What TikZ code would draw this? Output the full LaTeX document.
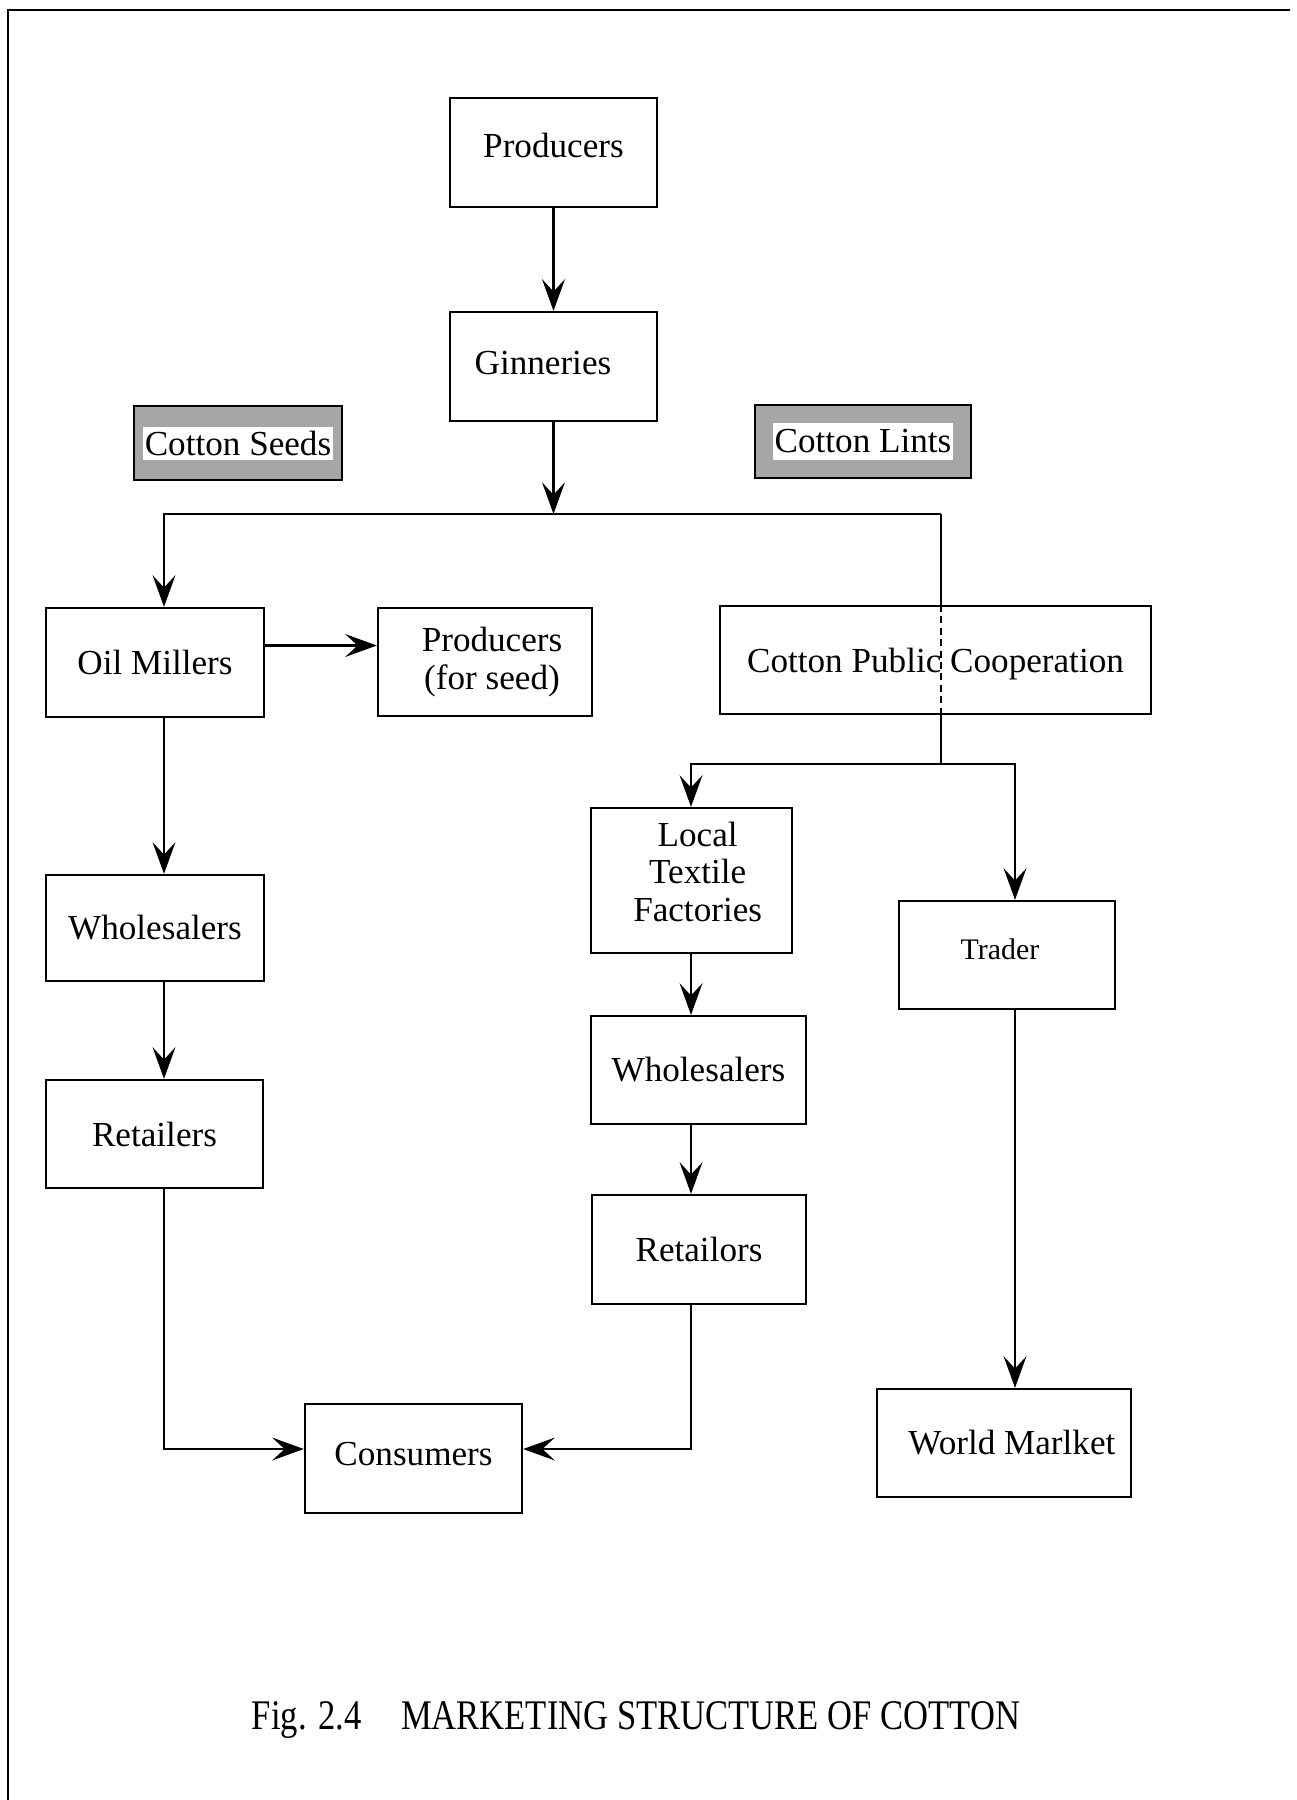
\documentclass[tikz,border=0pt]{standalone}
\usepackage{fontspec}
\usepackage{graphicx}
\setmainfont{Liberation Serif}
\usetikzlibrary{arrows.meta}
\begin{document}
\begin{tikzpicture}[x=0.02cm,y=-0.02cm,
  line width=1.3pt,
  sz/.style 2 args={minimum width=#1*0.02cm, minimum height=#2*0.02cm},
  box/.style={draw, rectangle, inner sep=0pt, align=center,
              font=\fontsize{20}{21.5}\selectfont},
  flow/.style={-{Stealth[length=18pt,width=13pt,inset=7pt]}},
  shadebox/.style={draw, fill=black!35, inner sep=0pt},
  tag/.style={fill=white, inner xsep=1pt, inner ysep=0pt,
              font=\fontsize{20}{24}\selectfont}
]
\useasboundingbox (0,0) rectangle (1296,1800);

% page frame
\draw[line width=1.6pt] (8,1800) -- (8,10) -- (1290,10);

% boxes
\node[box, sz={207}{109}, text depth=8pt] (prod) at (553.5,152.5) {Producers};
\node[box, sz={207}{109}, text depth=4pt] (gin)  at (553.5,366.5) {Ginneries\hspace*{12pt}};

\node[shadebox, sz={208}{74}] (seeds) at (238,443) {};
\node[tag, sz={183}{33}] (seedst) at (seeds) {Cotton Seeds};
\node[shadebox, sz={216}{73}] (lints) at (863,441.5) {};
\node[tag, sz={178}{37}] (lintst) at (lints) {Cotton Lints};

\node[box, sz={218}{109}] (om)  at (155,662.5) {Oil Millers};
\node[box, sz={214}{108}] (pfs) at (485,662) {\hspace*{8pt}Producers\\\hspace*{8pt}(for seed)};
\node[box, sz={431}{108}, text height=19pt] (cpc) at (935.5,660) {Cotton Public Cooperation};

\node[box, sz={218}{106}] (wl) at (155,928) {Wholesalers};
\node[box, sz={217}{108}] (rl) at (154.5,1134) {Retailers};

\node[box, sz={201}{145}, text depth=10pt] (ltf) at (691.5,880.5)
  {\hspace*{7pt}Local\\\hspace*{7pt}Textile\\\hspace*{7pt}Factories};
\node[box, sz={215}{108}] (wm)  at (698.5,1070) {Wholesalers};
\node[box, sz={214}{109}] (rm)  at (699,1249.5) {Retailors};

\node[box, sz={216}{108}, text depth=6.5pt, font=\fontsize{17}{20}\selectfont] (trader) at (1007,955) {Trader\hspace*{8pt}};
\node[box, sz={254}{108}] (world) at (1004,1443) {\hspace*{9pt}World Marlket};

\node[box, sz={217}{109}, text depth=5pt] (cons) at (413.5,1458.5) {Consumers};

% junction points
\coordinate (jl) at (164,514);
\coordinate (jr) at (941,514);
\coordinate (j2) at (941,764);
\coordinate (ja) at (691,764);
\coordinate (jb) at (1015,764);
\coordinate (cy) at (0,1449);

% connectors
\draw[flow] (prod.south) -- (gin.north);
\draw[flow] (gin.south) -- (gin.south |- jl);
\draw[flow] (jr) -- (jl) -- (jl |- om.north);
\draw (jr) -- (jr |- cpc.north);
\draw[dashed, dash pattern=on 4pt off 2.5pt] (jr |- cpc.north) -- (jr |- cpc.south);
\draw (jr |- cpc.south) -- (j2);
\draw[flow] ([yshift=0.34cm]om.east) -- ([yshift=0.34cm]om.east -| pfs.west);

\draw[flow] (jl |- om.south) -- (jl |- wl.north);
\draw[flow] (jl |- wl.south) -- (jl |- rl.north);
\draw[flow] (jl |- rl.south) -- (jl |- cy) -- (cons.west |- cy);

\draw[flow] (j2) -- (ja) -- (ja |- ltf.north);
\draw[flow] (j2) -- (jb) -- (jb |- trader.north);
\draw[flow] (ja |- ltf.south) -- (ja |- wm.north);
\draw[flow] (ja |- wm.south) -- (ja |- rm.north);
\draw[flow] (ja |- rm.south) -- (ja |- cy) -- (cons.east |- cy);
\draw[flow] (jb |- trader.south) -- (jb |- world.north);

% caption
\node[font=\fontsize{24}{28}\selectfont] (cap) at (636,1720)
  {\scalebox{0.82}[1]{Fig. 2.4\hspace{27.5pt}MARKETING STRUCTURE OF COTTON}};
\end{tikzpicture}
\end{document}
